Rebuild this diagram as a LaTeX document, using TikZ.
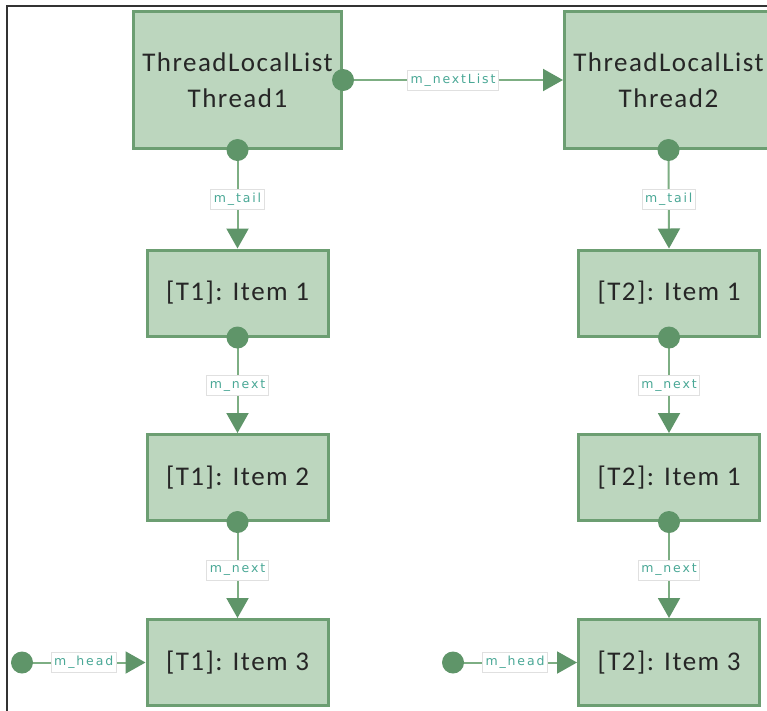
\documentclass[tikz,border=0pt]{standalone}
\usepackage{fontspec}
\setmainfont{Carlito}[LetterSpace=5.5]
\newfontfamily\lblfont{DejaVu Sans}[LetterSpace=15]
\usetikzlibrary{arrows.meta}
\definecolor{boxfill}{HTML}{BCD6BE}
\definecolor{boxline}{HTML}{6C9E72}
\definecolor{dotc}{HTML}{5F9569}
\definecolor{linec}{HTML}{7DAE83}
\definecolor{lbltext}{HTML}{4AA896}
\definecolor{lblline}{HTML}{E0E0E0}
\definecolor{framec}{HTML}{333333}
\begin{document}
\begin{tikzpicture}[x=1pt,y=-1pt,
 box/.style={draw=boxline, fill=boxfill, line width=3pt, inner sep=0pt, align=center, text=black!85},
 head/.style={box, minimum width=208pt, minimum height=137pt, font=\fontsize{27}{36}\selectfont},
 item/.style={box, minimum width=181pt, minimum height=86pt, font=\fontsize{27}{32}\selectfont},
 dot/.style={circle, fill=dotc, inner sep=0pt, minimum size=22pt},
 conn/.style={draw=linec, line width=2pt, -{Triangle[length=20pt,width=22pt,color=dotc]}},
 lbl/.style={fill=white, draw=lblline, line width=0.8pt, text=lbltext, font=\lblfont\fontsize{12.5}{14}\selectfont, inner xsep=3pt, inner ysep=0pt, minimum height=20pt}
]
\useasboundingbox (0,0) rectangle (767,710);
\clip (0,0) rectangle (767,710);
\fill[white] (0,0) rectangle (767,710);
\draw[line width=2pt, framec] (7,712) -- (7,6) -- (769,6);

% boxes
\node[head] (h1) at (237.5,80) {ThreadLocalList\\Thread1};
\node[head] (h2) at (668.5,80) {ThreadLocalList\\Thread2};
\node[item] (a1) at (237.5,293) {[T1]: Item 1};
\node[item] (a2) at (237.5,477.5) {[T1]: Item 2};
\node[item] (a3) at (237.5,662.5) {[T1]: Item 3};
\node[item] (b1) at (669,293) {[T2]: Item 1};
\node[item] (b2) at (669,477.5) {[T2]: Item 1};
\node[item] (b3) at (669,662.5) {[T2]: Item 3};

% free ends for m_head
\coordinate (ha) at (22,662.5);
\coordinate (hb) at (453,662.5);

% connectors
\draw[conn] (h1.east) -- node[lbl] {m\_nextList} (h2.west);
\draw[conn] (h1.south) -- node[lbl] {m\_tail} (a1.north);
\draw[conn] (a1.south) -- node[lbl] {m\_next} (a2.north);
\draw[conn] (a2.south) -- node[lbl] {m\_next} (a3.north);
\draw[conn] (h2.south) -- node[lbl] {m\_tail} (b1.north);
\draw[conn] (b1.south) -- node[lbl] {m\_next} (b2.north);
\draw[conn] (b2.south) -- node[lbl] {m\_next} (b3.north);
\draw[conn] (ha) -- node[lbl] {m\_head} (a3.west);
\draw[conn] (hb) -- node[lbl] {m\_head} (b3.west);

% dots
\node[dot] (d0) at (h1.east) {};
\node[dot] (d1) at (h1.south) {};
\node[dot] (d2) at (a1.south) {};
\node[dot] (d3) at (a2.south) {};
\node[dot] (d4) at (h2.south) {};
\node[dot] (d5) at (b1.south) {};
\node[dot] (d6) at (b2.south) {};
\node[dot] (d7) at (ha) {};
\node[dot] (d8) at (hb) {};
\end{tikzpicture}
\end{document}
